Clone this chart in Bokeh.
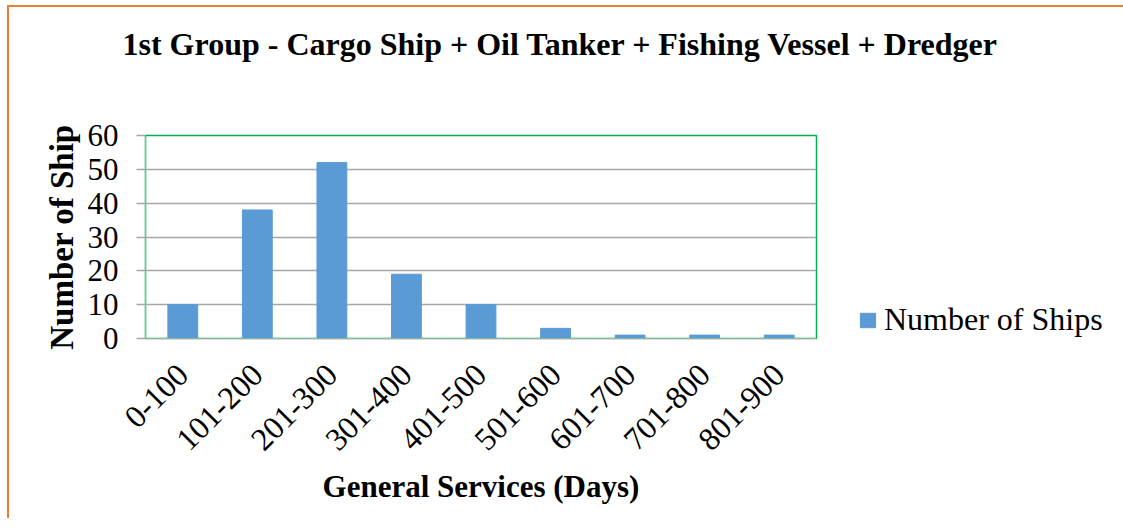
from math import pi
from bokeh.plotting import figure
from bokeh.models import FactorRange, Range1d, FixedTicker, Legend, LegendItem, ColumnDataSource, Title
from bokeh.embed import file_html
from bokeh.resources import INLINE

categories = ["0-100", "101-200", "201-300", "301-400", "401-500",
              "501-600", "601-700", "701-800", "801-900"]
ships = [10, 38, 52, 19, 10, 3, 1, 1, 1]
y_ticks = [0, 10, 20, 30, 40, 50, 60]

title_text = "1st Group - Cargo Ship + Oil Tanker + Fishing Vessel + Dredger"
x_label = "General Services (Days)"
y_label = "Number of Ship"
series_name = "Number of Ships"

FONT = "Liberation Serif"
BAR = "#5B9BD5"
GRID = "#A6A6A6"
GREEN = "#00B050"
ORANGE = "#ED7D31"

source = ColumnDataSource(dict(cat=categories, n=ships))

p = figure(
    x_range=FactorRange(factors=categories, range_padding=0),
    y_range=Range1d(0, 60),
    frame_width=671, frame_height=203,
    output_backend="svg", toolbar_location=None,
    min_border_left=136, min_border_top=128,
    min_border_right=295, min_border_bottom=180,
)
p.styles = {"border-left": f"2px solid {ORANGE}", "border-top": f"2px solid {ORANGE}",
            "margin-left": "7px", "margin-top": "5px"}

# spacer between frame and title
p.add_layout(Title(text=" ", text_font_size="10px", standoff=56), "above")

p.title.text = title_text
p.title.text_font = FONT
p.title.text_font_size = "32px"
p.title.text_font_style = "bold"
p.title.text_color = "black"
p.title.align = "left"
p.title.offset = -23
p.title.standoff = 10

r = p.vbar(x="cat", top="n", width=0.4, source=source, fill_color=BAR, line_color=BAR)

p.outline_line_color = GREEN
p.outline_line_width = 1.5

p.xgrid.grid_line_color = None
p.ygrid.grid_line_color = GRID
p.ygrid.grid_line_width = 1.3
p.yaxis.ticker = FixedTicker(ticks=y_ticks)

for ax in (p.xaxis, p.yaxis):
    ax.major_label_text_font = FONT
    ax.major_label_text_color = "black"
    ax.axis_label_text_font = FONT
    ax.axis_label_text_font_style = "bold"
    ax.axis_label_text_color = "black"
    ax.minor_tick_line_color = None
    ax.major_tick_in = 0

p.yaxis.axis_label = y_label
p.yaxis.major_label_text_font_size = "31px"
p.yaxis.axis_label_text_font_size = "33px"
p.yaxis.major_tick_out = 9
p.yaxis.major_tick_line_color = GRID
p.yaxis.major_tick_line_width = 1.3
p.yaxis.axis_line_color = GRID
p.yaxis.major_label_standoff = 18
p.yaxis.axis_label_standoff = 5

p.xaxis.axis_label = x_label
p.xaxis.major_label_text_font_size = "32px"
p.xaxis.axis_label_text_font_size = "31px"
p.xaxis.major_tick_out = 0
p.xaxis.axis_line_color = GRID
p.xaxis.major_label_orientation = pi / 4
p.xaxis.major_label_standoff = 31
p.xaxis.axis_label_standoff = 6

legend = Legend(items=[LegendItem(label=series_name, renderers=[r])],
                location=(42, 0), padding=0, margin=0, spacing=0,
                glyph_width=19, glyph_height=18, label_standoff=7,
                label_text_font=FONT, label_text_font_size="32px",
                label_text_color="black", border_line_color=None,
                background_fill_alpha=0)
p.add_layout(legend, "right")

open("out.html", "w").write(file_html(p, INLINE))
